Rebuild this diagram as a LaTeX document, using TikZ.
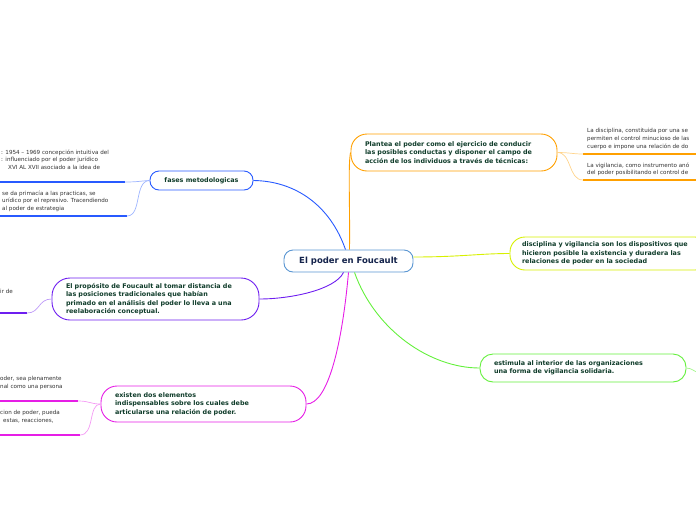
\documentclass[tikz,border=0pt]{standalone}
\usepackage{fontspec}
\setmainfont{DejaVu Sans}
\usepackage{tikz}
\usetikzlibrary{positioning}
\definecolor{root-line}{RGB}{90,150,210}
\definecolor{root-text}{RGB}{20,35,75}
\definecolor{topic-text}{RGB}{15,60,42}
\definecolor{leaf-text}{RGB}{50,50,50}
\definecolor{br-blue}{RGB}{40,90,255}
\definecolor{br-purple}{RGB}{110,30,240}
\definecolor{br-magenta}{RGB}{230,30,230}
\definecolor{br-orange}{RGB}{255,160,0}
\definecolor{br-lime}{RGB}{215,240,0}
\definecolor{br-green}{RGB}{100,240,60}

\begin{document}
\begin{tikzpicture}[
    x=1pt, y=-1pt,
    root/.style={draw=root-line, line width=0.9pt, fill=white, rounded corners=9pt, minimum width=129pt, minimum height=22pt, text=root-text, font=\fontsize{8.5}{10}\selectfont\bfseries},
    topic/.style={draw, line width=0.9pt, fill=white, align=left, text=topic-text, font=\fontsize{6.4}{8.5}\selectfont\bfseries, inner ysep=0pt},
    leaf/.style={anchor=north west, align=left, inner sep=0pt, text=leaf-text, font=\fontsize{5.6}{7.8}\selectfont},
    branch/.style={line width=0.9pt},
    bar/.style={line width=1.8pt},
    twig/.style={line width=0.7pt}
]
\useasboundingbox (0,0) rectangle (696,520);

% centre and main topics
\node[root] (root) at (348.5,261) {El poder en Foucault};
\node[topic, draw=br-blue, align=center, minimum width=103pt, minimum height=19pt, rounded corners=9pt] (fases) at (201.5,180.5) {fases metodologicas};
\node[topic, draw=br-purple, text width=179pt, inner xsep=14pt, minimum height=42pt, rounded corners=18pt] (proposito) at (155.5,299) {El propósito de Foucault al tomar distancia de\\las posiciones tradicionales que habían\\primado en el análisis del poder lo lleva a una\\reelaboración conceptual.};
\node[topic, draw=br-magenta, text width=177pt, inner xsep=14pt, minimum height=36pt, rounded corners=16pt] (elementos) at (203.5,404) {existen dos elementos\\indispensables sobre los cuales debe\\articularse una relación de poder.};
\node[topic, draw=br-orange, text width=178pt, inner xsep=14pt, minimum height=37pt, rounded corners=16pt] (plantea) at (454,152.5) {Plantea el poder como el ejercicio de conducir\\las posibles conductas y disponer el campo de\\acción de los individuos a través de técnicas:};
\node[topic, draw=br-lime, text width=176pt, inner xsep=12pt, minimum height=33pt, rounded corners=15pt] (dispositivos) at (610,253.5) {disciplina y vigilancia son los dispositivos que\\hicieron posible la existencia y duradera las\\relaciones de poder en la sociedad};
\node[topic, draw=br-green, text width=178pt, inner xsep=14pt, minimum height=28pt, rounded corners=13pt] (estimula) at (583,368) {estimula al interior de las organizaciones\\una forma de vigilancia solidaria.};

\draw[branch, br-blue] ([xshift=-3pt]root.north) .. controls (330,205) and (295,181) .. (fases.east);
\draw[branch, br-orange] ([xshift=1pt]root.north) .. controls (350,200) and (348,165) .. (plantea.west);
\draw[branch, br-lime] ([yshift=4pt]root.east) .. controls (460,257) and (480,253.5) .. (dispositivos.west);
\draw[branch, br-green] ([xshift=6pt]root.south) .. controls (375,330) and (430,368) .. (estimula.west);
\draw[branch, br-purple] ([xshift=-5pt]root.south) .. controls (335,290) and (290,299) .. (proposito.east);
\draw[branch, br-magenta] (root.south) .. controls (342,345) and (328,404) .. (elementos.east);

% leaves
\node[leaf] (fasesA) at (1,149.4) {: 1954 -- 1969 concepción intuitiva del\\: influenciado por el poder jurídico\\\hspace*{7pt}XVI AL XVII asociado a la idea de};
\node[leaf] (fasesB) at (2,190.4) {se da primacía a las practicas, se\\urídico por el represivo. Tracendiendo\\al poder de estrategia};
\node[leaf] (propA) at (0,289.4) {ir de};
\node[leaf] (elemA) at (0,376.4) {oder, sea plenamente\\nal como una persona};
\node[leaf] (elemB) at (0,410.4) {cion de poder, pueda\\\hspace*{3pt}estas, reacciones,};
\node[leaf] (planteaA) at (587,128.4) {La disciplina, constituida por una se\\permiten el control minucioso de las\\cuerpo e impone una relación de do};
\node[leaf] (planteaB) at (587,162.4) {La vigilancia, como instrumento anó\\del poder posibilitando el control de};

\coordinate (fasesAend) at (125,182);
\coordinate (fasesBend) at (127,216);
\coordinate (propAend) at (27,313);
\coordinate (elemAend) at (78,401);
\coordinate (elemBend) at (80,435);
\coordinate (planteaAend) at (583,154);
\coordinate (planteaBend) at (583,180);
\coordinate (estimulaOut) at (700,373);

\draw[bar, br-blue] (fasesAend) -- ++(-135,0);
\draw[bar, br-blue] (fasesBend) -- ++(-135,0);
\draw[bar, br-purple] (propAend) -- ++(-35,0);
\draw[bar, br-magenta] (elemAend) -- ++(-85,0);
\draw[bar, br-magenta] (elemBend) -- ++(-85,0);
\draw[bar, br-orange] (planteaAend) -- ++(120,0);
\draw[bar, br-orange] (planteaBend) -- ++(120,0);

\draw[twig, br-blue!45] (fasesAend) .. controls (138,182) and (140,181) .. (fases.west);
\draw[twig, br-blue!45] (fasesBend) .. controls (142,216) and (134,181) .. (fases.west);
\draw[twig, br-purple!45] (propAend) .. controls (40,313) and (38,299) .. (proposito.west);
\draw[twig, br-magenta!45] (elemAend) .. controls (90,401) and (90,404) .. (elementos.west);
\draw[twig, br-magenta!45] (elemBend) .. controls (95,435) and (88,404) .. (elementos.west);
\draw[twig, br-orange!45] (plantea.east) .. controls (570,152.5) and (572,154) .. (planteaAend);
\draw[twig, br-orange!45] (plantea.east) .. controls (572,152.5) and (568,180) .. (planteaBend);
\draw[twig, br-green!60] (estimula.east) .. controls (692,368) and (694,372) .. (estimulaOut);

\end{tikzpicture}
\end{document}
